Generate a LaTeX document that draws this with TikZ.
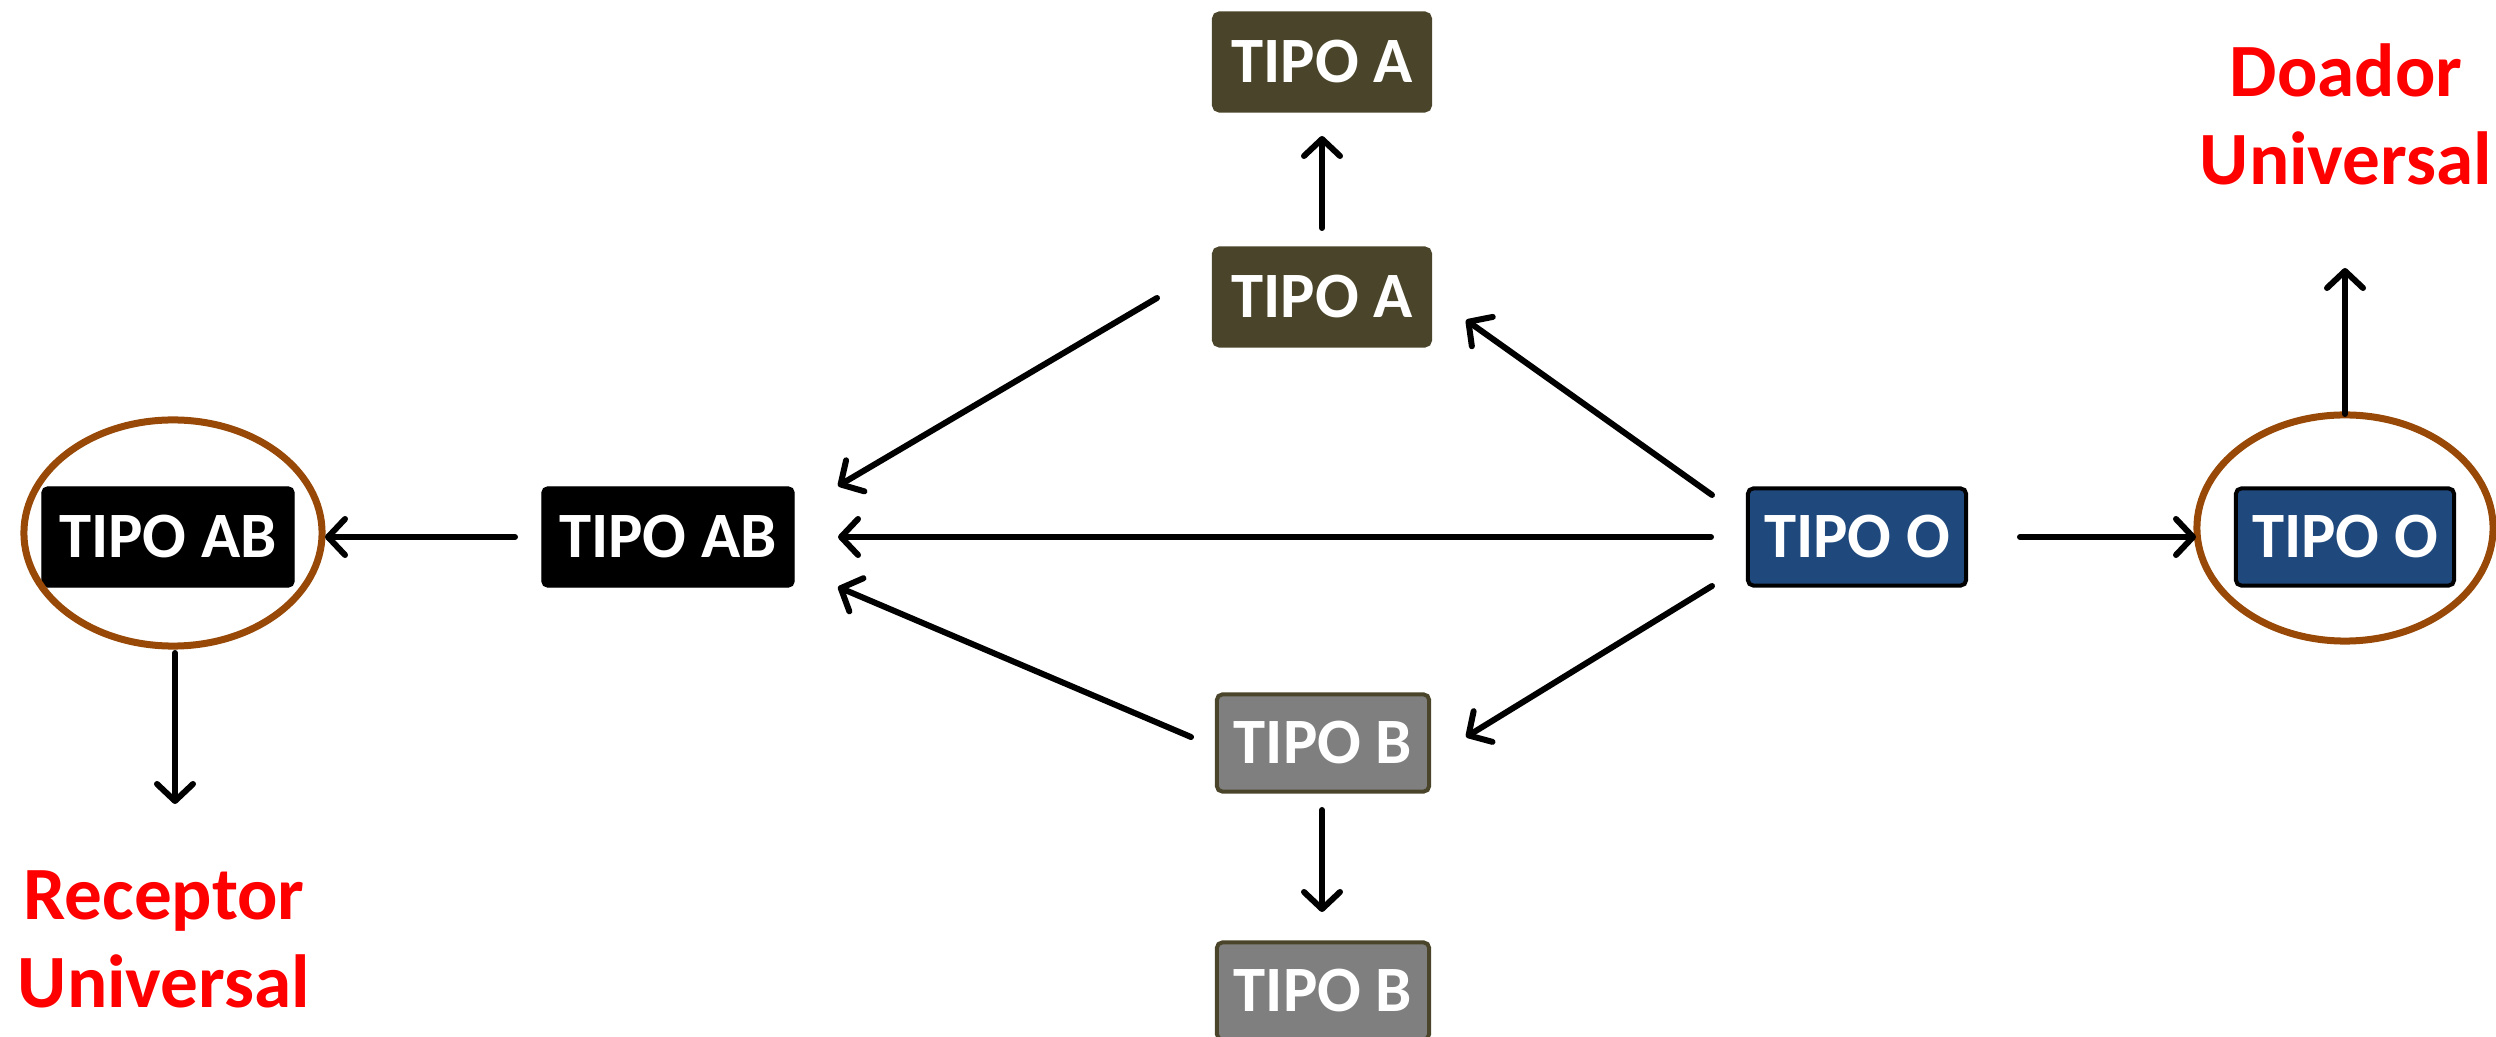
\documentclass[tikz,border=0pt]{standalone}
\usepackage{fontspec}
\setmainfont{Carlito}
\usetikzlibrary{arrows.meta,shapes.geometric}
\definecolor{olivebox}{HTML}{4A452A}
\definecolor{graybox}{HTML}{7F7F7F}
\definecolor{bluebox}{HTML}{1F497D}
\definecolor{ringbrown}{HTML}{984807}
\definecolor{labelred}{HTML}{FF0000}
\tikzset{
  tbox/.style={rectangle, rounded corners=1.5pt, inner sep=0pt, text=white,
    font=\fontsize{18.4}{20}\selectfont\bfseries, minimum height=0.97cm},
  abox/.style={tbox, fill=olivebox, draw=olivebox, line width=0.04cm, minimum width=2.16cm},
  bbox/.style={tbox, fill=graybox, draw=olivebox, line width=0.04cm, minimum width=2.12cm},
  obox/.style={tbox, fill=bluebox, draw=black, line width=0.04cm, minimum width=2.18cm},
  abbox/.style={tbox, fill=black, draw=black, line width=0.01cm, minimum width=2.52cm, minimum height=1.0cm},
  ring/.style={ellipse, draw=ringbrown, line width=0.07cm, inner sep=0pt},
  arr/.style={line width=0.06cm, line cap=round, -{Straight Barb[length=0.17cm, width=0.36cm, line cap=round, line join=round]}},
  redlabel/.style={text=labelred, font=\fontsize{21.4}{25.2}\selectfont\bfseries, align=center, inner sep=0pt}
}
\begin{document}
\begin{tikzpicture}[x=0.01cm, y=-0.01cm]
\useasboundingbox (0,0) rectangle (2496,1037);
% boxes
\node[abox] (A1) at (1322,62) {TIPO A};
\node[abox] (A2) at (1322,297) {TIPO A};
\node[bbox] (B1) at (1323,743) {TIPO B};
\node[bbox] (B2) at (1323,991) {TIPO B};
\node[abbox] (AB1) at (168,537) {TIPO AB};
\node[abbox] (AB2) at (668,537) {TIPO AB};
\node[obox] (O1) at (1857,537) {TIPO O};
\node[obox] (O2) at (2345,537) {TIPO O};
% rings
\node[ring, minimum width=2.98cm, minimum height=2.26cm] (RL) at (173,533) {};
\node[ring, minimum width=2.96cm, minimum height=2.26cm] (RR) at (2345,528) {};
% labels (anchor=base is the baseline of the last line)
\node[redlabel, anchor=base] (rec) at (164,1008) {Receptor\\Universal};
\node[redlabel, anchor=base] (doa) at (2346,185) {Doador\\Universal};
% arrow end points
\coordinate (a1s) at (1322,228); \coordinate (a1e) at (1322,136);
\coordinate (a2s) at (515,537);  \coordinate (a2e) at (325,537);
\coordinate (a3s) at (175,653);  \coordinate (a3e) at (175,804);
\coordinate (a4s) at (2345,414); \coordinate (a4e) at (2345,268);
\coordinate (a5s) at (2020,537); \coordinate (a5e) at (2196,537);
\coordinate (a6s) at (1711,537); \coordinate (a6e) at (838,537);
\coordinate (a7s) at (1157,298); \coordinate (a7e) at (838,486);
\coordinate (a8s) at (1191,737); \coordinate (a8e) at (838,587);
\coordinate (a9s) at (1712,495); \coordinate (a9e) at (1466,320);
\coordinate (a10s) at (1712,586); \coordinate (a10e) at (1466,737);
\coordinate (a11s) at (1322,810); \coordinate (a11e) at (1322,912);
% arrows
\draw[arr] (a1s) -- (a1e);
\draw[arr] (a2s) -- (a2e);
\draw[arr] (a3s) -- (a3e);
\draw[arr] (a4s) -- (a4e);
\draw[arr] (a5s) -- (a5e);
\draw[arr] (a6s) -- (a6e);
\draw[arr] (a7s) -- (a7e);
\draw[arr] (a8s) -- (a8e);
\draw[arr] (a9s) -- (a9e);
\draw[arr] (a10s) -- (a10e);
\draw[arr] (a11s) -- (a11e);
\end{tikzpicture}
\end{document}
